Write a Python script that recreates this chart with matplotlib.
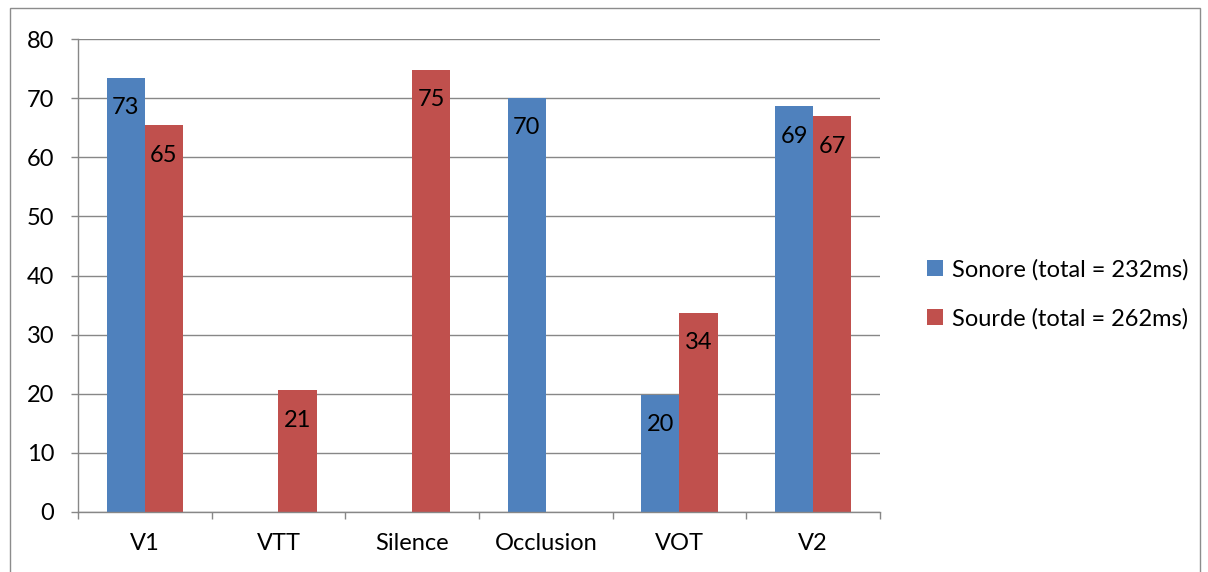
import matplotlib
matplotlib.use("Agg")
import matplotlib.pyplot as plt
import numpy as np
from matplotlib.patches import Rectangle

# --- data ---
categories = ["V1", "VTT", "Silence", "Occlusion", "VOT", "V2"]
sonore = [73.4, 0, 0, 70.0, 19.8, 68.6]
sourde = [65.4, 20.6, 74.8, 0, 33.7, 66.9]
sonore_labels = ["73", "", "", "70", "20", "69"]
sourde_labels = ["65", "21", "75", "", "34", "67"]
series_names = ["Sonore (total = 232ms)", "Sourde (total = 262ms)"]
yticks = [0, 10, 20, 30, 40, 50, 60, 70, 80]

BLUE = "#4F81BD"
RED = "#C0504D"
GRID = "#878787"
INK = "#000000"
FS = 17

plt.rcParams["font.family"] = ["Lato", "DejaVu Sans"]

fig = plt.figure(figsize=(12.08, 5.72), dpi=100)
ax = fig.add_axes([78 / 1208, 60 / 572, 802 / 1208, 473 / 572])

# outer chart-area border (Excel style)
fig.patches.append(Rectangle((10 / 1208, -0.02), 1190 / 1208, 1.0 - 8 / 572 + 0.02,
                             transform=fig.transFigure, fill=False,
                             edgecolor="#8c8c8c", lw=1.0))

x = np.arange(len(categories))
w = 1 / 3.5
b1 = ax.bar(x - w / 2, sonore, width=w, color=BLUE, label=series_names[0])
b2 = ax.bar(x + w / 2, sourde, width=w, color=RED, label=series_names[1])

for bars, labs in ((b1, sonore_labels), (b2, sourde_labels)):
    for b, lab in zip(bars, labs):
        if not lab:
            continue
        ax.annotate(lab, (b.get_x() + b.get_width() / 2, b.get_height()),
                    xytext=(0, -21.5), textcoords="offset points",
                    ha="center", va="center", fontsize=FS, color=INK)

ax.set_xlim(-0.5, len(categories) - 0.5)
ax.set_ylim(0, 80)
ax.set_yticks(yticks)
ax.yaxis.grid(True, color=GRID, lw=1.0)
ax.set_axisbelow(True)

for s in ("top", "right"):
    ax.spines[s].set_visible(False)
for s in ("left", "bottom"):
    ax.spines[s].set_color(GRID)
    ax.spines[s].set_linewidth(1.0)

ax.set_xticks(x)
ax.set_xticklabels(categories, fontsize=FS)
ax.set_xticks(np.arange(len(categories) + 1) - 0.5, minor=True)
ax.tick_params(axis="x", which="major", length=0, pad=15)
ax.tick_params(axis="x", which="minor", length=5, color=GRID, width=1.0)
ax.tick_params(axis="y", length=5, color=GRID, width=1.0, pad=12, labelsize=FS)

fig.legend(handles=[b1, b2], loc="center left",
           bbox_to_anchor=(906 / 1208, 278 / 572), frameon=False, fontsize=FS,
           handlelength=0.65, handleheight=0.65, handletextpad=0.4,
           labelspacing=1.15)

fig.savefig("out.png", dpi=100)
